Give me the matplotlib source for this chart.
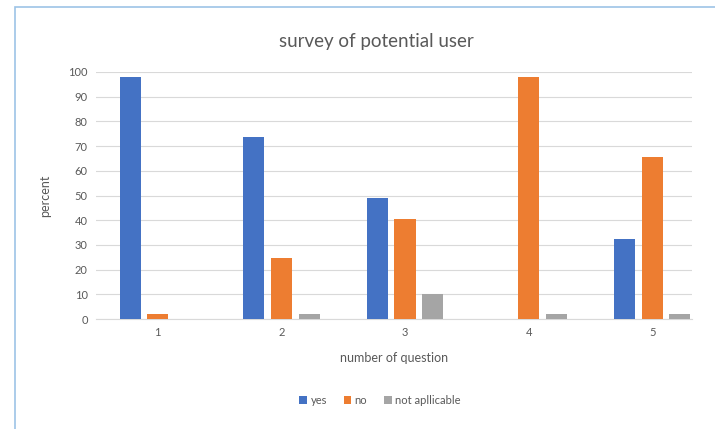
import numpy as np
import matplotlib.pyplot as plt
from matplotlib.patches import Rectangle

# Data
questions = ['1', '2', '3', '4', '5']
yes = [98, 73.5, 49, 0, 32.5]
no = [2, 24.5, 40.5, 98, 65.5]
not_applicable = [0, 2, 10, 2, 2]

plt.rcParams['font.family'] = ['Lato', 'DejaVu Sans']

fig = plt.figure(figsize=(7.15, 4.29), dpi=100)
ax = fig.add_axes([96 / 715, 1 - 319 / 429, (692 - 96) / 715, (319 - 72) / 429])

# light blue frame around the chart (only top and left visible)
fig.patches.append(Rectangle((15 / 715, -0.1), 1.2, 1 - 7 / 429 + 0.1,
                             transform=fig.transFigure, fill=False,
                             edgecolor='#9DC3E6', linewidth=1.2))

x = np.arange(1, len(questions) + 1)
w = 0.17
off = 0.224
ax.bar(x - off, yes, w, color='#4472C4', label='yes', zorder=3)
ax.bar(x, no, w, color='#ED7D31', label='no', zorder=3)
ax.bar(x + off, not_applicable, w, color='#A5A5A5', label='not apllicable', zorder=3)

ax.set_xlim(0.5, 5.5 - (714 - 692) / 123.6)
ax.set_ylim(0, 100)
ax.set_yticks(np.arange(0, 101, 10))
ax.set_xticks(x)
ax.set_xticklabels(questions)
ax.yaxis.grid(True, color='#D9D9D9', linewidth=0.8, zorder=0)
for s in ['top', 'right', 'left']:
    ax.spines[s].set_visible(False)
ax.spines['bottom'].set_color('#D9D9D9')
ax.tick_params(axis='both', length=0, labelsize=8, colors='#595959', pad=6)

ax.set_ylabel('percent', fontsize=9, color='#595959', labelpad=12)
ax.set_xlabel('number of question', fontsize=9, color='#595959', labelpad=10)

fig.text(376 / 715, 1 - 42 / 429, 'survey of potential user', ha='center', va='center',
         fontsize=13.5, color='#595959')

fig.legend(loc='center', bbox_to_anchor=(380 / 715, 1 - 400 / 429), ncol=3,
           frameon=False, fontsize=8, handlelength=0.7, handleheight=0.7,
           handletextpad=0.3, columnspacing=1.5, labelcolor='#595959')

fig.savefig('out.png', dpi=100, facecolor='white')
